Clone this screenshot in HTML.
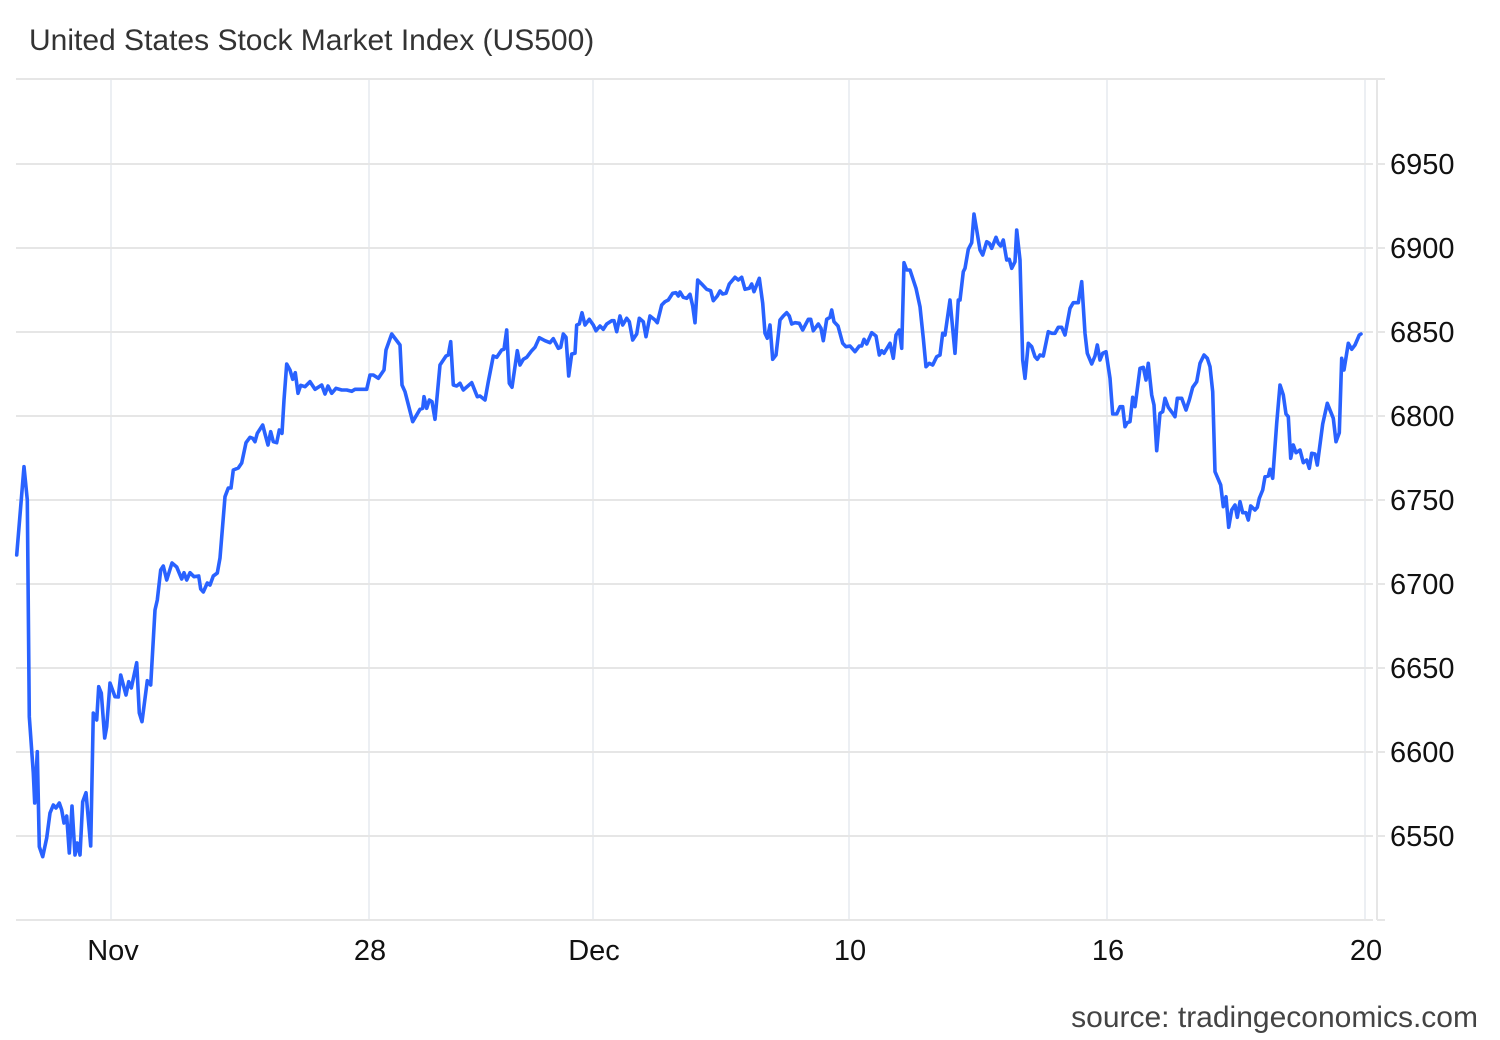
<!DOCTYPE html>
<html>
<head>
<meta charset="utf-8">
<style>
html,body{margin:0;padding:0;background:#fff;}
body{width:1500px;height:1040px;overflow:hidden;}
svg{display:block;}
text{font-family:"Liberation Sans",Arial,sans-serif;}
</style>
</head>
<body>
<svg width="1500" height="1040" viewBox="0 0 1500 1040" xmlns="http://www.w3.org/2000/svg">
<rect x="0" y="0" width="1500" height="1040" fill="#ffffff"/>
<text x="29" y="50" font-size="30" fill="#333333">United States Stock Market Index (US500)</text>

<!-- vertical gridlines -->
<g stroke="#eceff3" stroke-width="2">
<line x1="111" y1="80" x2="111" y2="920"/>
<line x1="369" y1="80" x2="369" y2="920"/>
<line x1="593" y1="80" x2="593" y2="920"/>
<line x1="849" y1="80" x2="849" y2="920"/>
<line x1="1107" y1="80" x2="1107" y2="920"/>
<line x1="1365" y1="80" x2="1365" y2="920"/>
</g>

<!-- horizontal gridlines -->
<g stroke="#e6e6e6" stroke-width="2">
<line x1="16" y1="79" x2="1385" y2="79"/>
<line x1="16" y1="164" x2="1373" y2="164"/>
<line x1="16" y1="248" x2="1373" y2="248"/>
<line x1="16" y1="332" x2="1373" y2="332"/>
<line x1="16" y1="416" x2="1373" y2="416"/>
<line x1="16" y1="500" x2="1373" y2="500"/>
<line x1="16" y1="584" x2="1373" y2="584"/>
<line x1="16" y1="668" x2="1373" y2="668"/>
<line x1="16" y1="752" x2="1373" y2="752"/>
<line x1="16" y1="836" x2="1373" y2="836"/>
<line x1="16" y1="920" x2="1373" y2="920"/>
<line x1="1377" y1="79" x2="1377" y2="920"/>
<line x1="1377" y1="164" x2="1385" y2="164"/>
<line x1="1377" y1="248" x2="1385" y2="248"/>
<line x1="1377" y1="332" x2="1385" y2="332"/>
<line x1="1377" y1="416" x2="1385" y2="416"/>
<line x1="1377" y1="500" x2="1385" y2="500"/>
<line x1="1377" y1="584" x2="1385" y2="584"/>
<line x1="1377" y1="668" x2="1385" y2="668"/>
<line x1="1377" y1="752" x2="1385" y2="752"/>
<line x1="1377" y1="836" x2="1385" y2="836"/>
<line x1="1377" y1="920" x2="1385" y2="920"/>
</g>

<!-- y labels -->
<g font-size="29" fill="#111111">
<text x="1390" y="174">6950</text>
<text x="1390" y="258">6900</text>
<text x="1390" y="342">6850</text>
<text x="1390" y="426">6800</text>
<text x="1390" y="510">6750</text>
<text x="1390" y="594">6700</text>
<text x="1390" y="678">6650</text>
<text x="1390" y="762">6600</text>
<text x="1390" y="846">6550</text>
</g>

<!-- x labels -->
<g font-size="29" fill="#111111" text-anchor="middle">
<text x="113" y="960">Nov</text>
<text x="370" y="960">28</text>
<text x="594" y="960">Dec</text>
<text x="850" y="960">10</text>
<text x="1108" y="960">16</text>
<text x="1366" y="960">20</text>
</g>

<polyline fill="none" stroke="#2962ff" stroke-width="3.6" stroke-linejoin="round" stroke-linecap="round" points="
16.7,555 24,466.7 27.3,500 29.3,716.7 33.3,773 34.7,803 37.3,751.7 39.3,846.7 42.7,856.7 46.7,838 50,813 53.3,805 56,808 59.3,803 61.7,810 64,823 66.7,816 69.3,853 72,806 75,855 77.3,843 80,855 82.7,801.7 86,792.7 90.7,846 93.3,713 96.7,720 98.7,686.7 101.3,693 104.7,738 106.7,726.7 110,683 115,696.7 118.3,697 120.7,675 126,695 128.7,681.7 131.3,688 136.7,662.7 139.3,713 142,721.7 147.3,680.7 150.7,685 155,610 157.3,600 160.7,570 163.3,566 166.7,580 172,563 176.7,567 181.7,579 184,572.7 186.7,580 190,572.7 194,576.7 198.7,576
200.7,589 203.3,592 207.3,583 210,585 213.3,576 217.3,573 220,558 225,496.7 228.3,488 231,488 233.3,470 238.3,468 241.7,463 246,442.7 250,437.3 252.7,438.3 255,441.7 257.3,433.3 262.7,425 265.3,435 268,445 270.7,431.7 273.3,441.7 276.7,442.7 279.3,430 282,433.3 284,400 286.7,364 290,370 292.7,379.3 295.3,372.7 298,393.3 300.7,385.3 305,386.7 310,381.7 315,389.3 321.7,385 325,394 328,386 331.7,393.3 336,388.3 341.7,390 346.7,390 351.7,391.3 355,389.3 366.7,389.3 370,375 373.3,375 378.3,378.3 384,370 386,350 391.7,334 400,345 402,385 405,391.7 412.7,421.7 420,409.3 422.7,408.3 424,396.7 426.7,408.3 429.3,400 432,401.7 435,419.3 440,365 446,356 448.3,355 450.7,341.7 453.3,385 456.7,386 460,383.3 463.3,390 471.7,382.7 477.3,396.7
480,396 485,400 488.3,381.7 493.3,356 496.7,357.3 501.7,350 504,349.3 506.7,330 509.3,383.3 512,387.3 517.3,350.7 520,365 523.3,359.3 526.7,357.3 531.7,350.7 535,347.3 539.3,337.7 545,340.7 550,342.7 553.3,338.7 558.3,348.3 560.7,347.3 563.3,334 566,337.3 568.7,376 571.7,354 575,353.3 576.7,325 579.3,324 582,312.7 585,325 589.3,319.3 593.3,325 596,330.7 600,326 603.3,329.3 606.7,324 611.7,320.7 614,320.7 616.7,331.7 620,316 622.7,325 626.7,318.3 629.3,321.7 632.7,340 636.7,334 639.3,318.3 643.3,321.7 646,336.7 650,316 655,320 657.3,322.7 661.7,305 665,301.7 668.3,300 672.7,293.3 676,292.7 678.3,296 680,292 683.3,297.3 686.7,298.3 690,294.3 692.7,306 695,322.7 697.7,280 701.7,284 706.7,289.3 710.7,290.7 713.3,300.7 717.3,296 720,291 722.7,294 726,293.3 729.3,284 735,277.3 738.3,280 741.7,277.3 745,289.3 749.3,288.3 751.7,284 754,291.7 759.3,278.3
762.7,303.3 765,333.3 767.3,338.3 770,325 772.7,359.3 776,355 780,320 783.3,316 786.7,312.7 789.3,316 791.7,324 795,322.7 799.3,323.3 802.7,330 808.3,319.3 810.7,319.3 813.3,330.7 818.3,324 821,328.3 823.3,340.7 826.7,319.3 830,317.3 831.7,310 834,321.7 838,326 842.7,343.3 846,346.7 850,346 855,351.7 859.3,346 861.7,346 864,339.3 866.7,344 871.7,332.7 876,336 879.3,355 881.7,350.7 884,353.3 890,343.3 893.3,358.3 896,335 899.3,330 901.7,348.3 904,262.7 906.7,270 910,270 916,288.3 920,306.7 923.3,338.3 926,366.7 929.3,363.3 932.7,365 936.7,356.7 940,355 942.7,333.3 945,335 950,300 955,353.3 958.3,300 960,300 963.3,271.7 965,268.3 968.3,249.3 971.7,242.7 974,214 976.7,230 980,250 982.7,255 986.7,241.7 989.3,243.3 991.7,248.3 996,237.3 998.3,243.3 1000.7,246 1003.3,240 1006.7,260 1009.3,259.3 1011.7,268.3 1015,261.7 1016.7,230 1020,260 1022.7,360 1025,378.3 1028.3,343.3 1031.7,346.7 1035,356.7 1037.3,359.3
1040,355 1043.3,356 1048.3,331.7 1051.7,333.3 1055,333.3 1058.3,327.3 1061.7,327.3 1065,335 1070,308.3 1073.3,302.7 1078.3,302.7 1081.7,281.7 1085,333.3 1087.3,353.3 1091.7,364 1095,356 1097.3,345 1100,360 1102.7,353.3 1106,351.7 1110,378.3 1112.7,414 1116.7,414 1120,406.7 1122.7,406.7 1125,426.7 1127.3,422.7 1130,421.7 1132.7,397.3 1135,406.7 1140,368.3 1143.3,367.3 1146,380 1148.3,363.3 1151.7,395 1154,405 1156.7,450.7 1160,413.3 1162.7,411.7 1165,398.3 1168.3,407.3 1172.7,413.3 1175,416.7 1177.3,398.3 1181.7,398.3 1186,410 1189.3,400 1192.7,387.3 1196.7,381.7 1200,363.3 1204,355 1207.3,358.3 1210,366.7 1212.7,391.7 1215,471.7 1220.7,485 1223.3,506.7 1226,496.7 1228.7,527.3 1231.7,510 1235,505 1237.3,517.3 1240,501.7 1242.7,512.7 1246,512.7 1248.3,520 1250.7,506 1255,510 1257.3,507.3 1259.3,498.3 1262.7,490 1265,476.7 1268.3,476 1270,469.3 1272.7,478.3 1276.7,423.3 1280,385 1283.3,395 1286,414 1288.3,416.7 1290.7,458.3 1293.3,445 1296,452.7 1300,450 1303.3,462.7 1306.7,460 1309.3,468.3 1311.7,453.3 1315,454 1317.3,465 1322.7,424 1327.3,403.3 1333.3,418.3 1336,441.7 1339.3,432.7 1341.7,358.3 1344,370 1348.3,343.3 1351.7,349.3 1355,345 1359.3,335 1361,334"/>

<text x="1478" y="1027" font-size="30" fill="#444444" text-anchor="end">source: tradingeconomics.com</text>
</svg>
</body>
</html>
